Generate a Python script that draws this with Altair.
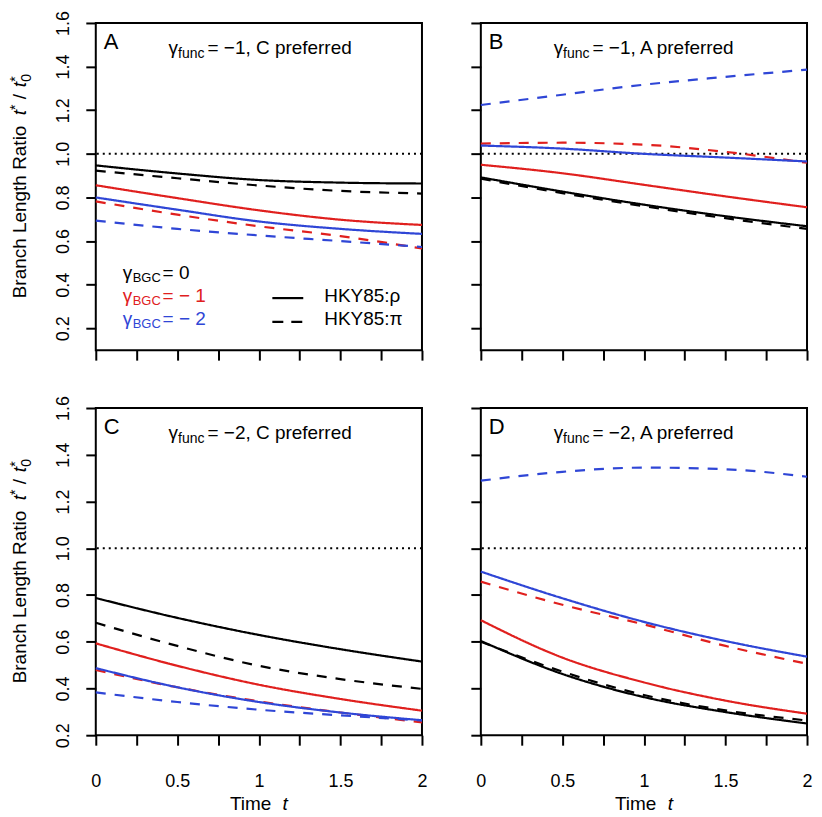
import altair as alt
import pandas as pd

FONT = "Liberation Sans"

# ---------------- data ----------------
times = [0.0, 0.5, 1.0, 1.5, 2.0]
gamma_bgc = ["0", "-1", "-2"]
models = ["HKY85:ρ", "HKY85:π"]
line_colors = ["#000000", "#E0201E", "#2F46D6"]

x_ticks = [0, 0.25, 0.5, 0.75, 1.0, 1.25, 1.5, 1.75, 2.0]
y_ticks = [0.2, 0.4, 0.6, 0.8, 1.0, 1.2, 1.4, 1.6]

# Panel A: gamma_func = -1, C preferred
A_rho_g0 = [0.947, 0.910, 0.880, 0.868, 0.864]
A_pi_g0 = [0.923, 0.888, 0.855, 0.830, 0.818]
A_rho_g1 = [0.856, 0.797, 0.741, 0.698, 0.674]
A_pi_g1 = [0.782, 0.721, 0.668, 0.623, 0.566]
A_rho_g2 = [0.800, 0.744, 0.690, 0.656, 0.633]
A_pi_g2 = [0.694, 0.656, 0.626, 0.600, 0.573]
# Panel B: gamma_func = -1, A preferred
B_rho_g0 = [0.892, 0.827, 0.767, 0.714, 0.668]
B_pi_g0 = [0.886, 0.820, 0.760, 0.705, 0.656]
B_rho_g1 = [0.950, 0.911, 0.858, 0.805, 0.755]
B_pi_g1 = [1.047, 1.051, 1.042, 1.009, 0.959]
B_rho_g2 = [1.038, 1.024, 1.000, 0.983, 0.965]
B_pi_g2 = [1.224, 1.271, 1.317, 1.353, 1.386]
# Panel C: gamma_func = -2, C preferred
C_rho_g0 = [0.787, 0.702, 0.629, 0.568, 0.515]
C_pi_g0 = [0.681, 0.582, 0.497, 0.440, 0.398]
C_rho_g1 = [0.593, 0.497, 0.416, 0.355, 0.305]
C_pi_g1 = [0.479, 0.405, 0.345, 0.297, 0.255]
C_rho_g2 = [0.487, 0.405, 0.342, 0.297, 0.264]
C_pi_g2 = [0.383, 0.342, 0.309, 0.285, 0.263]
# Panel D: gamma_func = -2, A preferred
D_rho_g0 = [0.603, 0.462, 0.363, 0.299, 0.250]
D_pi_g0 = [0.600, 0.472, 0.372, 0.306, 0.263]
D_rho_g1 = [0.692, 0.532, 0.426, 0.348, 0.292]
D_pi_g1 = [0.857, 0.758, 0.674, 0.582, 0.506]
D_rho_g2 = [0.900, 0.786, 0.685, 0.603, 0.536]
D_pi_g2 = [1.289, 1.327, 1.345, 1.338, 1.306]

series = {
    ("A", "0", models[0]): A_rho_g0, ("A", "0", models[1]): A_pi_g0,
    ("A", "-1", models[0]): A_rho_g1, ("A", "-1", models[1]): A_pi_g1,
    ("A", "-2", models[0]): A_rho_g2, ("A", "-2", models[1]): A_pi_g2,
    ("B", "0", models[0]): B_rho_g0, ("B", "0", models[1]): B_pi_g0,
    ("B", "-1", models[0]): B_rho_g1, ("B", "-1", models[1]): B_pi_g1,
    ("B", "-2", models[0]): B_rho_g2, ("B", "-2", models[1]): B_pi_g2,
    ("C", "0", models[0]): C_rho_g0, ("C", "0", models[1]): C_pi_g0,
    ("C", "-1", models[0]): C_rho_g1, ("C", "-1", models[1]): C_pi_g1,
    ("C", "-2", models[0]): C_rho_g2, ("C", "-2", models[1]): C_pi_g2,
    ("D", "0", models[0]): D_rho_g0, ("D", "0", models[1]): D_pi_g0,
    ("D", "-1", models[0]): D_rho_g1, ("D", "-1", models[1]): D_pi_g1,
    ("D", "-2", models[0]): D_rho_g2, ("D", "-2", models[1]): D_pi_g2,
}
rows = []
for (p, g, m), vals in series.items():
    for t, v in zip(times, vals):
        rows.append({"panel": p, "gamma": g, "model": m, "t": t, "ratio": v})
df = pd.DataFrame(rows)

# ---------------- layout ----------------
W, H = 327, 328
S = H / 330.0


def txt(s, x, y, size=19, color="black", italic=False, angle=0, align="left"):
    kw = dict(align=align, baseline="alphabetic", font=FONT, fontSize=size, color=color)
    if italic:
        kw["fontStyle"] = "italic"
    if angle:
        kw["angle"] = angle
    return alt.Chart(pd.DataFrame({"s": [s]})).mark_text(**kw).encode(
        x=alt.value(x), y=alt.value(y), text="s:N")


def panel(key, ydom, bottom, left, fval, pref, legend=False):
    sub = df[df.panel == key]
    xaxis = alt.Axis(values=x_ticks, labels=bottom,
                     labelExpr="datum.value % 0.5 == 0 ? format(datum.value, '~g') : ''",
                     labelPadding=27, labelFlush=False, labelOverlap=False,
                     title=None, tickSize=10)
    yaxis = alt.Axis(values=y_ticks, labels=left, format=".1f", labelAngle=270,
                     labelAlign="center", labelBaseline="alphabetic", labelPadding=17.5,
                     labelFlush=False, labelOverlap=False, title=None, tickSize=10)
    xs = alt.Scale(domain=[0, 2], nice=False, zero=False)
    ys = alt.Scale(domain=ydom, nice=False, zero=False)

    ref = alt.Chart(pd.DataFrame({"ratio": [1.0]})).mark_rule(
        color="black", strokeWidth=2, strokeDash=[2, 4]).encode(
        y=alt.Y("ratio:Q", scale=ys, axis=yaxis))
    curves = alt.Chart(sub).mark_line(strokeWidth=2.2, interpolate="monotone").encode(
        x=alt.X("t:Q", scale=xs, axis=xaxis),
        y=alt.Y("ratio:Q", scale=ys, axis=yaxis),
        color=alt.Color("gamma:N", scale=alt.Scale(domain=gamma_bgc, range=line_colors), legend=None),
        strokeDash=alt.StrokeDash("model:N", scale=alt.Scale(domain=models, range=[[1, 0], [10, 9]]),
                                  legend=None),
    )
    layers = [ref, curves,
              txt(key, 8, 26.5, size=22),
              txt("γ", 73, 31.5),
              txt("func", 82.5, 35, size=14),
              txt(f"= {fval}, {pref} preferred", 112, 31.5)]
    if left:
        bx = -70
        layers += [
            txt("Branch Length Ratio", bx, 276, angle=270),
            txt("t", bx, 92.5, italic=True, angle=270),
            txt("*", bx - 6, 87.2, size=14, angle=270),
            txt("/", bx, 76.5, angle=270),
            txt("t", bx, 64.5, italic=True, angle=270),
            txt("0", bx + 5, 59, size=14, angle=270),
            txt("*", bx - 6, 59, size=14, angle=270),
        ]
    if bottom:
        layers += [txt("Time", 134.5, H + 75), txt("t", 187.3, H + 75, italic=True)]
    if legend:
        rows_y = [258 * S, 281.5 * S, 305 * S]
        labels = ["= 0", "= − 1", "= − 2"]
        for yy, lab, col in zip(rows_y, labels, line_colors):
            layers += [txt("γ", 27, yy, color=col),
                       txt("BGC", 37, yy + 3, size=13, color=col),
                       txt(lab, 67, yy, color=col)]
        k = pd.DataFrame({"k": [0]})
        layers += [
            alt.Chart(k).mark_rule(color="black", strokeWidth=2.2).encode(
                x=alt.value(177), x2=alt.value(208), y=alt.value(277.5 * S)),
            alt.Chart(k).mark_rule(color="black", strokeWidth=2.2, strokeDash=[11, 8]).encode(
                x=alt.value(177), x2=alt.value(208), y=alt.value(301.5 * S)),
            txt("HKY85:ρ", 229, 281.5 * S),
            txt("HKY85:π", 229, 305 * S),
        ]
    return alt.layer(*layers).properties(width=W, height=H)


pA = panel("A", [0.1, 1.6], False, True, "−1", "C", legend=True)
pB = panel("B", [0.1, 1.6], False, False, "−1", "A")
pC = panel("C", [0.2, 1.6], True, True, "−2", "C")
pD = panel("D", [0.2, 1.6], True, False, "−2", "A")

chart = alt.concat(pA, pB, pC, pD, columns=2, spacing={"row": 58, "column": 59},
                   bounds="flush", padding=0).configure_view(
    stroke="black", strokeWidth=2).configure_axis(
    labelFont=FONT, labelFontSize=18, labelColor="black", tickColor="black",
    tickWidth=2, domain=False, grid=False)

chart.save("out.html", embed_options={"renderer": "svg", "actions": False})
